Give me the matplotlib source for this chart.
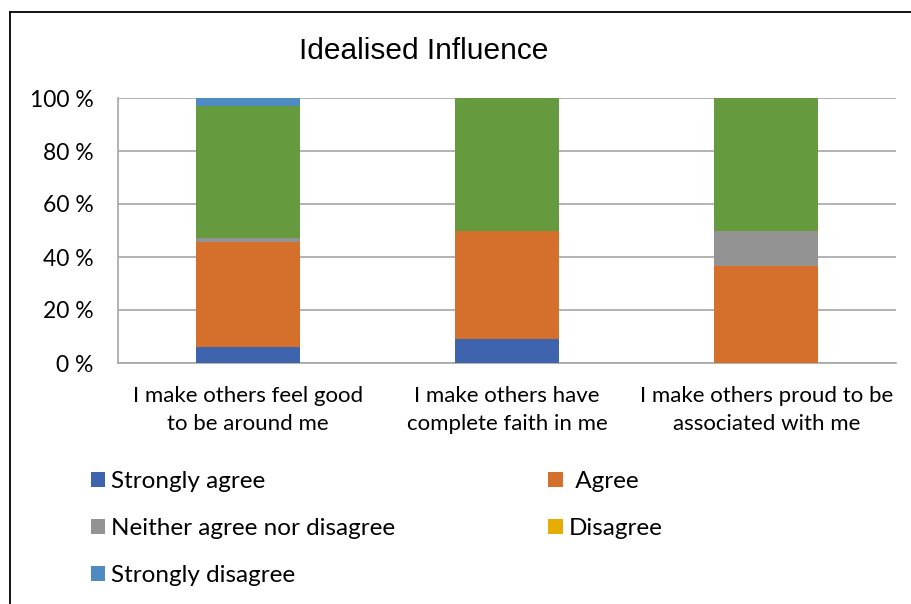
import matplotlib
matplotlib.use("Agg")
import matplotlib.pyplot as plt
from matplotlib.patches import Patch
from matplotlib.lines import Line2D
import numpy as np

plt.rcParams['font.family'] = ['Lato', 'DejaVu Sans']

categories = [
    "I make others feel good\nto be around me",
    "I make others have\ncomplete faith in me",
    "I make others proud to be\nassociated with me",
]

strongly_agree = [6.2, 8.9, 0.0]
agree = [39.3, 41.1, 36.6]
neither = [1.5, 0.0, 13.4]
disagree = [0.0, 0.0, 0.0]
no_answer = [50.1, 50.0, 50.0]
strongly_disagree = [2.9, 0.0, 0.0]

series = [
    ("Strongly agree", strongly_agree, "#3E64AD"),
    (" Agree", agree, "#D4702B"),
    ("Neither agree nor disagree", neither, "#939393"),
    ("Disagree", disagree, "#E6AC00"),
    ("", no_answer, "#659A3F"),
    ("Strongly disagree", strongly_disagree, "#4E8BC0"),
]

yticks = [0, 20, 40, 60, 80, 100]
ytick_labels = ["0 %", "20 %", "40 %", "60 %", "80 %", "100 %"]

fig = plt.figure(figsize=(9.12, 6.04), dpi=100)
ax = fig.add_axes([118 / 912, 1 - 363 / 604, (896 - 118) / 912, (363 - 98) / 604])

x = np.arange(len(categories))
bottom = np.zeros(len(categories))
for name, vals, color in series:
    vals = np.array(vals, dtype=float)
    ax.bar(x, vals, width=0.4, bottom=bottom, color=color, zorder=3)
    bottom += vals

ax.set_xlim(-0.5, len(categories) - 0.5)
ax.set_ylim(0, 100)
ax.set_yticks(yticks)
ax.set_yticklabels(ytick_labels, fontsize=16.5)
ax.set_xticks(x)
ax.set_xticklabels(categories, fontsize=16, linespacing=1.5)
ax.tick_params(axis='y', length=0, pad=17.5)
ax.tick_params(axis='x', length=0, pad=16.5)
ax.yaxis.grid(True, color="#A6A6A6", linewidth=1.2, zorder=0)
for side in ("top", "right"):
    ax.spines[side].set_visible(False)
ax.spines["left"].set_color("#A6A6A6")
ax.spines["bottom"].set_color("#A6A6A6")
ax.spines["left"].set_linewidth(1.2)
ax.spines["bottom"].set_linewidth(1.2)

fig.text(424 / 912, 1 - 51 / 604, "Idealised Influence",
         family=['Liberation Sans Narrow', 'Liberation Sans', 'DejaVu Sans'],
         fontsize=21.5, ha="center", va="center")

# legend: first column, then second column
order = [0, 2, 5, 1, 3]
handles = [Patch(facecolor=series[i][2], edgecolor="none") for i in order]
labels = [series[i][0] for i in order]
fig.legend(handles, labels, loc="upper left", bbox_to_anchor=(91 / 912, 1 - 471 / 604),
           ncol=2, frameon=False, fontsize=17.5, handlelength=0.58, handleheight=0.58,
           handletextpad=0.25, columnspacing=6.3, labelspacing=1.08,
           borderpad=0, borderaxespad=0)

# outer chart frame
fig.add_artist(Line2D([10 / 912, 10 / 912], [0, 1 - 12 / 604], color="black", linewidth=1.3,
                      transform=fig.transFigure))
fig.add_artist(Line2D([10 / 912, 1], [1 - 12 / 604, 1 - 12 / 604], color="black", linewidth=1.3,
                      transform=fig.transFigure))

fig.savefig("out.png", dpi=100, facecolor="white")
